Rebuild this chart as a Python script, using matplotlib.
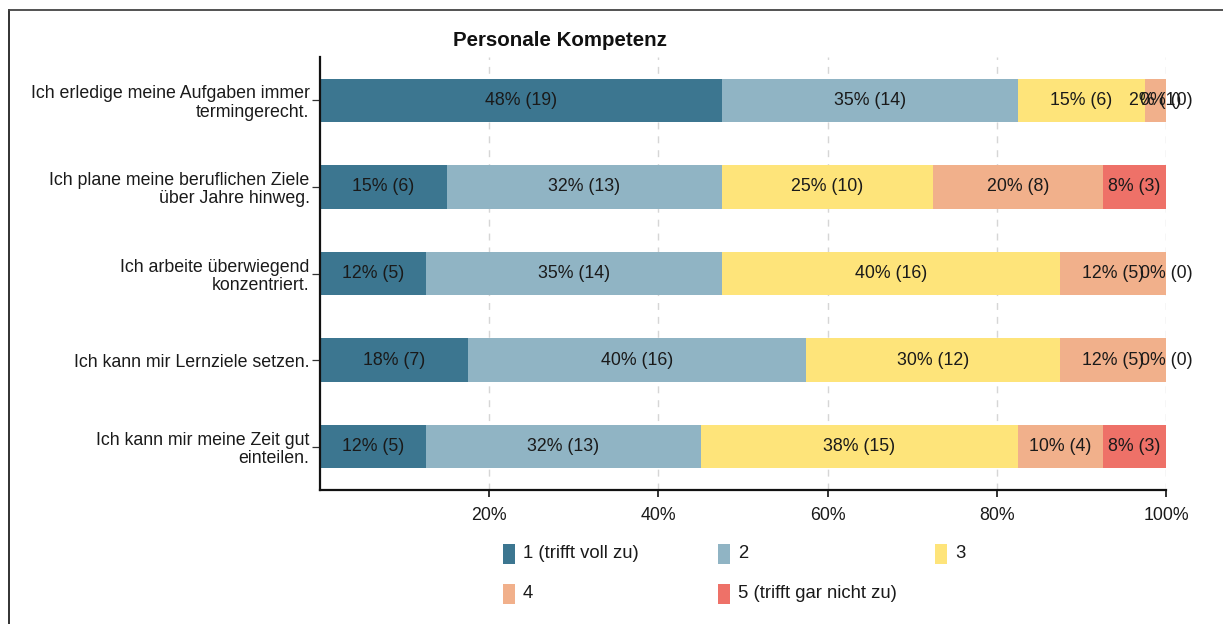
import matplotlib
matplotlib.use("Agg")
import matplotlib.pyplot as plt
from matplotlib.patches import Rectangle
from matplotlib.lines import Line2D

plt.rcParams['font.family'] = ['Liberation Sans', 'DejaVu Sans']

title = "Personale Kompetenz"
categories = [
    "Ich erledige meine Aufgaben immer\ntermingerecht.",
    "Ich plane meine beruflichen Ziele\nüber Jahre hinweg.",
    "Ich arbeite überwiegend\nkonzentriert.",
    "Ich kann mir Lernziele setzen.",
    "Ich kann mir meine Zeit gut\neinteilen.",
]
series_names = ["1 (trifft voll zu)", "2", "3", "4", "5 (trifft gar nicht zu)"]
colors = ["#3c7690", "#90b4c4", "#fee47a", "#f1b08b", "#ee7168"]

# counts per answer option (rows = categories, columns = options 1..5)
counts_1 = [19, 6, 5, 7, 5]
counts_2 = [14, 13, 14, 16, 13]
counts_3 = [6, 10, 16, 12, 15]
counts_4 = [1, 8, 5, 5, 4]
counts_5 = [0, 3, 0, 0, 3]
# percentage labels as printed
pct_1 = [48, 15, 12, 18, 12]
pct_2 = [35, 32, 35, 40, 32]
pct_3 = [15, 25, 40, 30, 38]
pct_4 = [2, 20, 12, 12, 10]
pct_5 = [0, 8, 0, 0, 8]

xticks = [20, 40, 60, 80, 100]
xticklabels = ["20%", "40%", "60%", "80%", "100%"]

series_counts = [counts_1, counts_2, counts_3, counts_4, counts_5]
series_pct = [pct_1, pct_2, pct_3, pct_4, pct_5]

W, H = 1223, 624
fig = plt.figure(figsize=(W / 100, H / 100), dpi=100)
ax = fig.add_axes([320 / W, 1 - 490 / H, (1166 - 320) / W, (490 - 57) / H])

ypos = list(range(len(categories)))
totals = [sum(s[i] for s in series_counts) for i in ypos]
left = [0.0] * len(categories)
for k, (cnts, pcts) in enumerate(zip(series_counts, series_pct)):
    widths = [c / t * 100 for c, t in zip(cnts, totals)]
    ax.barh(ypos, widths, left=left, height=0.5, color=colors[k], zorder=2)
    for i in ypos:
        cx = left[i] + widths[i] / 2
        ax.text(cx, ypos[i], f"{pcts[i]}% ({cnts[i]})", ha="center", va="center",
                fontsize=12.8, color="#1a1a1a", zorder=3, clip_on=False)
    left = [l + w for l, w in zip(left, widths)]

ax.set_xlim(0, 100)
ax.set_ylim(4.5, -0.5)
ax.set_yticks(ypos)
ax.set_yticklabels(categories, fontsize=12.8, color="#1a1a1a", linespacing=1.1)
ax.set_xticks(xticks)
ax.set_xticklabels(xticklabels, fontsize=12.8, color="#1a1a1a")
ax.tick_params(axis="x", length=5, width=1.3, pad=7, color="#222222")
ax.tick_params(axis="y", length=6, width=0.9, pad=1.5, color="#333333")
ax.xaxis.grid(True, linestyle=(0, (5, 5)), color="#d6d6d6", linewidth=1, zorder=0)
ax.set_axisbelow(True)
for s in ["top", "right"]:
    ax.spines[s].set_visible(False)
for s in ["left", "bottom"]:
    ax.spines[s].set_linewidth(1.6)
    ax.spines[s].set_color("#111111")

fig.text(560 / W, 1 - 40 / H, title, ha="center", va="center",
         fontsize=14.8, fontweight="bold", color="#111111")

# legend laid out in rows of three
leg_x = [503, 718, 935]
leg_y = [554, 594]
for k, name in enumerate(series_names):
    r, c = divmod(k, 3)
    x0, yc = leg_x[c], leg_y[r]
    fig.patches.append(Rectangle((x0 / W, 1 - (yc + 10) / H), 12 / W, 20 / H,
                                 transform=fig.transFigure, facecolor=colors[k],
                                 edgecolor="none"))
    fig.text((x0 + 20) / W, 1 - yc / H, name, ha="left", va="center",
             fontsize=13.3, color="#1a1a1a")

# frame lines of the screenshot
fig.lines.append(Line2D([8.5 / W, 8.5 / W], [0, 1 - 10 / H], transform=fig.transFigure,
                        color="#222222", linewidth=1.3))
fig.lines.append(Line2D([8.5 / W, 1], [1 - 10 / H, 1 - 10 / H], transform=fig.transFigure,
                        color="#444444", linewidth=1.3))

fig.savefig("out.png", dpi=100)
